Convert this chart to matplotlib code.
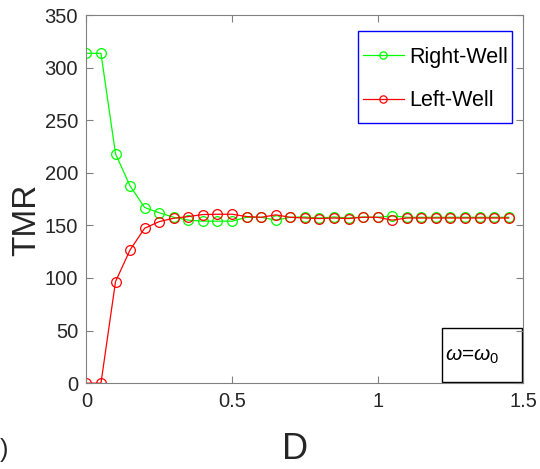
import numpy as np
import matplotlib.pyplot as plt
from matplotlib.patches import Rectangle

plt.rcParams['font.family'] = ['Liberation Sans', 'DejaVu Sans']
plt.rcParams['mathtext.fontset'] = 'custom'
plt.rcParams['mathtext.it'] = 'Liberation Sans:italic'
plt.rcParams['mathtext.rm'] = 'Liberation Sans'

# D values and TMR for the two wells
D = np.arange(30) * 0.05
right_well = [313.6, 313.6, 218, 187.5, 167, 162, 157.7, 155, 154, 154,
              154, 157.7, 157.7, 155, 157.7, 158, 157, 158, 157, 158,
              157.7, 159, 157.7, 157.7, 157.7, 157.7, 157.7, 157.7, 157.7, 157.7]
left_well = [0, 0, 96.6, 126.7, 147.3, 153.6, 156.8, 158.4, 160.3, 160.6,
             160.6, 158.4, 157.7, 160, 157.7, 157, 156.5, 157, 156.5, 157.7,
             157.7, 155, 157, 157, 157, 157, 157, 157, 157, 157]

fig = plt.figure(figsize=(5.4, 4.69), dpi=100)
ax = fig.add_axes([0.160, 0.183, 0.809, 0.785])

ax.plot(D, right_well, '-o', color=(0, 1, 0), lw=0.9, ms=7, mfc='none', mew=0.9, label='Right-Well')
ax.plot(D, left_well, '-o', color=(1, 0, 0), lw=0.9, ms=7, mfc='none', mew=0.9, label='Left-Well')

ax.set_xlim(0, 1.5)
ax.set_ylim(0, 350)
ax.set_xticks([0, 0.5, 1, 1.5])
ax.set_xticklabels(['0', '0.5', '1', '1.5'])
ax.set_yticks(np.arange(0, 351, 50))

grey = '#262626'
for s in ax.spines.values():
    s.set_color('#808080')
    s.set_linewidth(0.8)
ax.tick_params(direction='in', top=True, right=True, length=5, width=0.8,
               colors='#808080', labelcolor=grey, labelsize=14.5, pad=6)

ax.set_xlabel('D', fontsize=26, color=grey)
ax.xaxis.set_label_coords(0.477, -0.133)
ax.set_ylabel('TMR', fontsize=24, color=grey)
ax.yaxis.set_label_coords(-0.102, 0.443)

# legend with a hand-drawn blue frame (taller than the text needs, like the original)
ax.add_patch(Rectangle((0.621, 0.706), 0.354, 0.251, transform=ax.transAxes,
                       facecolor='white', edgecolor='#0000ff', lw=1.0, zorder=4))
leg = ax.legend(loc='center', bbox_to_anchor=(0.799, 0.826), borderaxespad=0,
                fontsize=15.5, frameon=False, handlelength=1.9,
                handletextpad=0.25, labelspacing=1.05, borderpad=0, markerscale=0.75)
leg.set_zorder(5)

ax.add_patch(Rectangle((0.814, 0.004), 0.183, 0.147, transform=ax.transAxes,
                       fill=False, edgecolor='black', lw=1.0, clip_on=False))
ax.text(0.822, 0.074, r'$\omega$=$\omega_0$', transform=ax.transAxes,
        fontsize=15, va='center', ha='left', color='black')

fig.text(0.0, 0.025, ')', fontsize=18, color=grey)

fig.savefig('out.png', dpi=100)
